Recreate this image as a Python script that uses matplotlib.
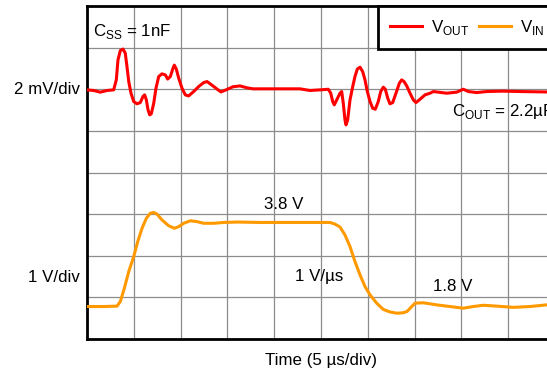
import numpy as np
import matplotlib
matplotlib.use("Agg")
import matplotlib.pyplot as plt
import matplotlib.transforms as mtransforms

plt.rcParams['font.family'] = ['Liberation Sans', 'DejaVu Sans']
plt.rcParams['mathtext.fontset'] = 'custom'
plt.rcParams['mathtext.rm'] = 'Liberation Sans'

# Scope settings: 5 us/div, 10 divisions across, 8 down
time_per_div = 5.0
vout_mv_per_div = 2.0
vout_center_div = 6.0
vin_offset_v = 1.0   # VIN is shown with 1 V/div, trace shifted down 1 V

# VOUT trace (time in us, deviation in mV)
vout_t = [0.00, 0.72, 1.42, 2.14, 2.85, 3.13, 3.31, 3.56, 3.85, 4.09, 4.27, 4.46,
          4.70, 4.99, 5.34, 5.69, 5.98, 6.16, 6.34, 6.52, 6.70, 6.87, 7.13, 7.37,
          7.66, 8.01, 8.37, 8.62, 8.90, 9.19, 9.33, 9.54, 9.80, 10.15, 10.50, 10.86,
          11.40, 11.93, 12.47, 12.82, 13.46, 14.00, 14.32, 14.85, 15.60, 16.35, 17.09,
          17.74, 19.23, 20.62, 22.76, 23.82, 24.89, 25.78, 26.04, 26.25, 26.42, 26.68,
          27.03, 27.21, 27.38, 27.56, 27.67, 27.85, 28.10, 28.39, 28.63, 28.88, 29.17,
          29.45, 29.70, 29.95, 30.24, 30.52, 30.80, 31.12, 31.38, 31.66, 31.87, 32.13,
          32.37, 32.66, 33.01, 33.37, 33.62, 33.87, 34.16, 34.51, 34.86, 35.15, 35.58,
          36.11, 36.65, 37.00, 38.43, 39.50, 40.20, 40.74, 41.63, 42.70, 44.48, 46.26,
          49.11, 50.00]
vout_mv = [-0.03, -0.06, -0.14, -0.06, -0.03, 0.45, 1.41, 1.86, 1.93, 1.73, 1.09, 0.37,
           -0.19, -0.59, -0.70, -0.64, -0.35, -0.27, -0.51, -0.99, -1.23, -1.18, -0.67, 0.05,
           0.61, 0.74, 0.69, 0.49, 0.61, 1.01, 1.16, 0.97, 0.53, 0.05, -0.27, -0.32,
           -0.11, 0.13, 0.32, 0.37, 0.16, -0.03, -0.13, -0.03, 0.12, 0.16, 0.07,
           0.02, 0.02, 0.02, 0.02, -0.06, -0.03, 0.00, -0.19, -0.59, -0.75, -0.51,
           -0.19, -0.11, -0.67, -1.47, -1.71, -1.47, -0.51, 0.13, 0.61, 0.97, 1.06,
           0.85, 0.45, -0.11, -0.59, -0.91, -0.96, -0.59, -0.11, 0.10, 0.00, -0.43,
           -0.70, -0.64, -0.19, 0.29, 0.45, 0.37, 0.16, -0.19, -0.51, -0.64, -0.48,
           -0.27, -0.19, -0.11, -0.19, -0.14, 0.00, -0.11, -0.16, -0.11, -0.09, -0.11,
           -0.13, -0.12]

# VIN trace (time in us, volts)
vin_t = [0.00, 1.78, 3.21, 3.56, 3.99, 4.46, 4.99, 5.42, 5.88, 6.34, 6.76, 7.13,
         7.48, 8.01, 8.73, 9.33, 9.80, 10.33, 11.04, 11.75, 12.47, 13.54, 14.60, 16.03,
         18.48, 20.62, 22.76, 25.96, 26.50, 27.03, 27.56, 28.10, 28.63, 29.17, 29.70,
         30.24, 30.95, 31.66, 32.37, 33.12, 33.76, 34.19, 34.69, 35.04, 35.93, 37.36,
         38.78, 40.20, 41.27, 42.34, 43.77, 45.55, 47.33, 49.11, 50.00]
vin_v = [1.78, 1.78, 1.79, 1.90, 2.22, 2.62, 2.98, 3.34, 3.66, 3.90, 4.02, 4.04,
         4.00, 3.86, 3.72, 3.66, 3.70, 3.78, 3.84, 3.82, 3.78, 3.78, 3.80, 3.81,
         3.80, 3.80, 3.80, 3.80, 3.76, 3.69, 3.50, 3.22, 2.86, 2.54, 2.26,
         2.06, 1.86, 1.71, 1.65, 1.62, 1.63, 1.66, 1.78, 1.86, 1.87, 1.82,
         1.78, 1.74, 1.78, 1.81, 1.79, 1.76, 1.78, 1.82, 1.82]

fig = plt.figure(figsize=(5.47, 3.70), dpi=100)
# the scope screen runs a bit past the right edge of the picture
ax = fig.add_axes([87 / 547, 31 / 370, 468 / 547, 333 / 370])

x_out = np.array(vout_t) / time_per_div
y_out = vout_center_div + np.array(vout_mv) / vout_mv_per_div
x_in = np.array(vin_t) / time_per_div
y_in = np.array(vin_v) - vin_offset_v

ax.plot(x_out, y_out, color='#ff0000', lw=2.2, solid_joinstyle='round',
        label=r'V$_{\mathrm{OUT}}$', zorder=3)
ax.plot(x_in, y_in, color='#ff9900', lw=2.2, solid_joinstyle='round',
        label=r'V$_{\mathrm{IN}}$', zorder=3)

ax.set_xlim(0, 10)
ax.set_ylim(0, 8)
ax.set_xticks(np.arange(0, 11))
ax.set_yticks(np.arange(0, 9))
ax.tick_params(length=0, labelbottom=False, labelleft=False)
ax.grid(True, color='#8c8c8c', lw=0.9)
ax.set_axisbelow(True)
for side in ['left', 'bottom', 'top']:
    ax.spines[side].set_linewidth(2.0)
    ax.spines[side].set_color('black')
ax.spines['right'].set_visible(False)

fs = 12.2
trans = mtransforms.blended_transform_factory(ax.transAxes, ax.transData)
ax.text(-0.015, 6.0, '2 mV/div', transform=trans, ha='right', va='center', fontsize=fs)
ax.text(-0.015, 1.47, '1 V/div', transform=trans, ha='right', va='center', fontsize=fs)
ax.text(0.5, -21 / 333, 'Time (5 µs/div)', transform=ax.transAxes,
        ha='center', va='center', fontsize=fs)

ax.text(0.13, 7.38, r'C$_{\mathrm{SS}}$ = 1nF', ha='left', va='center', fontsize=fs)
ax.text(7.80, 5.46, r'C$_{\mathrm{OUT}}$ = 2.2µF', ha='left', va='center', fontsize=fs)
ax.text(4.21, 3.22, '3.8 V', ha='center', va='center', fontsize=fs)
ax.text(4.96, 1.49, '1 V/µs', ha='center', va='center', fontsize=fs)
ax.text(7.82, 1.25, '1.8 V', ha='center', va='center', fontsize=fs)

leg = ax.legend(loc='upper left', bbox_to_anchor=(0.622, 1.0), ncol=2, fontsize=fs,
                frameon=True, fancybox=False, framealpha=1, borderaxespad=0,
                handlelength=1.9, handletextpad=0.5, columnspacing=0.6, borderpad=0.7)
leg.get_frame().set_edgecolor('black')
leg.get_frame().set_linewidth(2.0)

fig.savefig('out.png', dpi=100)
